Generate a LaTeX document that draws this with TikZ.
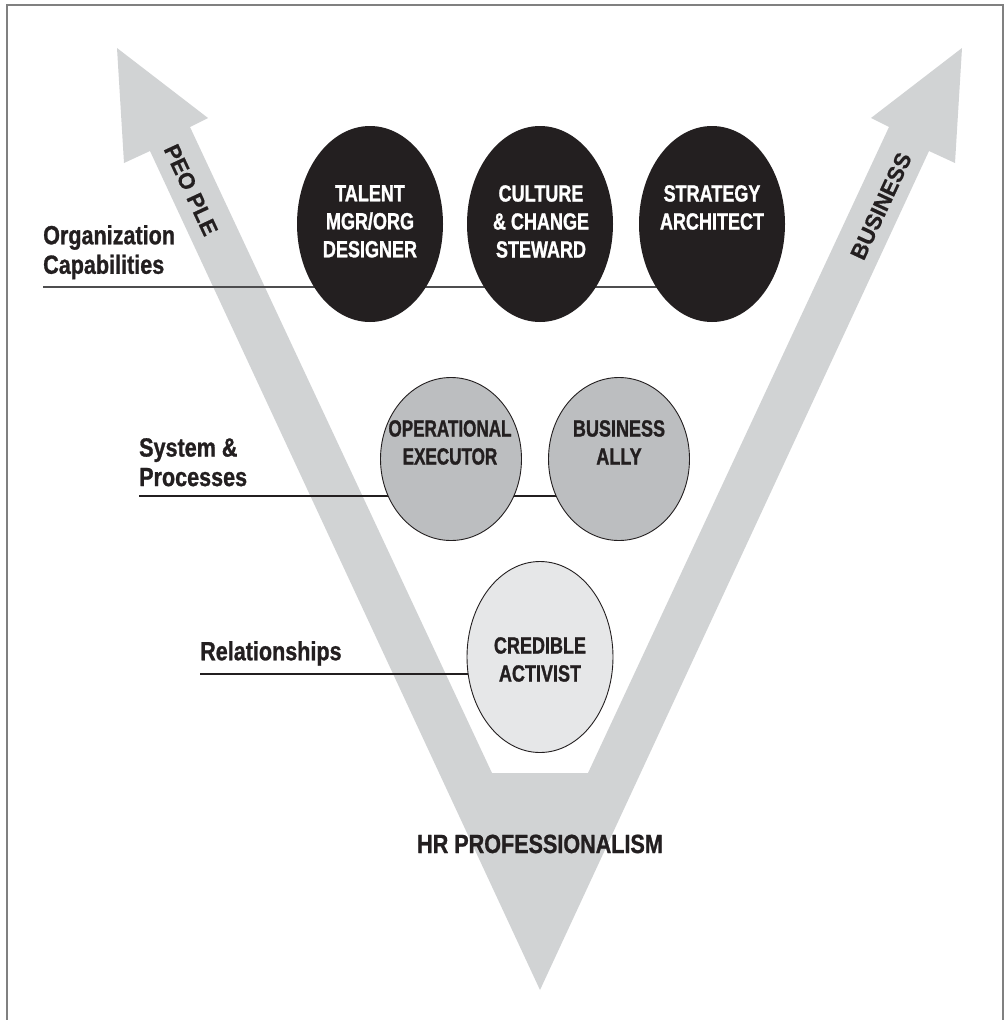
\documentclass[tikz,border=0pt]{standalone}
\usepackage{fontspec}
\setmainfont{Liberation Sans}
\newfontfamily\narrow{Liberation Sans}[FakeStretch=0.82, FakeBold=1.0]
\newfontfamily\narrowe{Liberation Sans}[FakeStretch=0.77, FakeBold=1.2]
\newfontfamily\narrowo{Liberation Sans}[FakeStretch=0.73, FakeBold=1.2]
\newfontfamily\rotfont{Liberation Sans}[FakeBold=0.6]
\usetikzlibrary{shapes.geometric}
\pgfdeclarelayer{bg}
\pgfsetlayers{bg,main}
\definecolor{ink}{HTML}{231F20}
\definecolor{vgray}{HTML}{D1D3D4}
\definecolor{midgray}{HTML}{BCBEC0}
\definecolor{palegray}{HTML}{E6E7E8}
\definecolor{framegray}{HTML}{808080}
\definecolor{linegray}{HTML}{4D4D4F}
\begin{document}
\begin{tikzpicture}[x=1pt,y=-1pt,
  ell/.style={ellipse, inner sep=0pt, minimum width=146pt, minimum height=196pt},
  blackell/.style={ell, fill=ink},
  grayell/.style={ell, fill=midgray, draw=ink, line width=0.9pt, minimum width=141pt, minimum height=163pt},
  lightell/.style={ell, fill=palegray, draw=ink, line width=0.9pt, minimum height=191pt},
  etext/.style={inner sep=0pt, align=center, anchor=north, font=\narrowe\bfseries\fontsize{23.4}{28}\selectfont},
  wtext/.style={etext, text=white},
  dtext/.style={etext, text=ink},
  lbltext/.style={inner sep=0pt, align=left, anchor=north west, text=ink, font=\narrow\bfseries\fontsize{26.3}{29.5}\selectfont},
  rottext/.style={inner sep=0pt, text=ink, font=\rotfont\bfseries\fontsize{22.5}{26}\selectfont},
  conn/.style={draw=ink, line width=1.3pt},
  vshape/.style={fill=vgray, draw=none}
]
\useasboundingbox (0,0) rectangle (1005,1020);
% frame
\draw[framegray, line width=2pt] (7,1021) -- (7,5) -- (1003,5) -- (1003,1021);

% ellipses
\node[blackell] (talent) at (370,224) {};
\node[blackell] (culture) at (540,224) {};
\node[blackell] (strategy) at (712,224) {};
\node[grayell] (operational) at (451,459) {};
\node[grayell] (ally) at (619,459) {};
\node[lightell] (credible) at (540,657) {};

% ellipse texts
\node[wtext] (talenttxt) at (370,185) {TALENT\\MGR/ORG\\DESIGNER};
\node[wtext] (culturetxt) at (541,185) {CULTURE\\\&{} CHANGE\\STEWARD};
\node[wtext] (strategytxt) at (712,185) {STRATEGY\\ARCHITECT};
\node[dtext, font=\narrowo\bfseries\fontsize{23.4}{28}\selectfont] (operationaltxt) at (450,420) {OPERATIONAL\\EXECUTOR};
\node[dtext] (allytxt) at (619,420) {BUSINESS\\ALLY};
\node[dtext] (credibletxt) at (540,637) {CREDIBLE\\ACTIVIST};

% left labels
\node[lbltext] (orglab) at (43,225) {Organization\\Capabilities};
\node[lbltext] (syslab) at (139,438) {System \&\\Processes};
\node[lbltext] (rellab) at (200,641) {Relationships};

% bottom label
\node[inner sep=0pt, anchor=base, text=ink, font=\narrow\bfseries\fontsize{26.3}{29.5}\selectfont] (hrprof) at (540,853) {HR PROFESSIONALISM};

% rotated arrow labels
\node[rottext, rotate=-65] (people) at (191,190) {PEO PLE};
\node[rottext, rotate=65] (business) at (881,206) {BUSINESS};

\coordinate (orgL) at (43,287);
\coordinate (sysL) at (139,496);
\coordinate (relL) at (200,674);

\begin{pgfonlayer}{bg}
  \path[vshape] (117,48) -- (208,118) -- (190,127) -- (492,773) -- (588,773)
     -- (889,127) -- (871,118) -- (962,48) -- (955,163) -- (929,151)
     -- (540,990) -- (150,151) -- (124,163) -- cycle;
  \draw[conn, draw=linegray, line width=1.6pt] (orgL) -- (orgL -| strategy.center);
  \draw[conn] (sysL) -- (sysL -| ally.center);
  \draw[conn] (relL) -- (relL -| credible.center);
\end{pgfonlayer}
\end{tikzpicture}
\end{document}
